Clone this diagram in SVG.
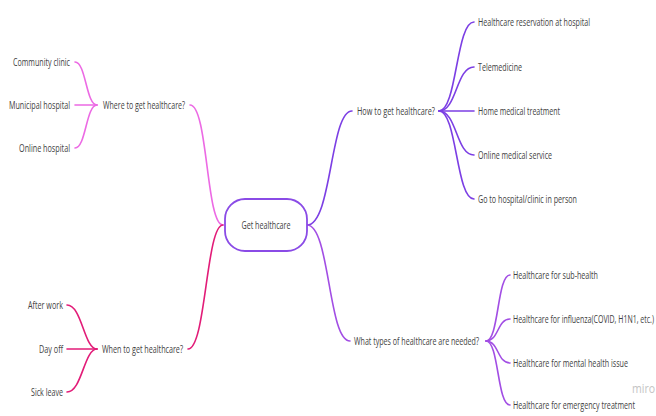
<svg xmlns="http://www.w3.org/2000/svg" width="656" height="416" viewBox="0 0 656 416">
<style>
text{font-family:"Open Sans","Liberation Sans",sans-serif;font-size:10px;fill:#414141;dominant-baseline:central}
.r{text-anchor:end}
.c{text-anchor:middle}
path{fill:none;stroke-width:1.6;stroke-linecap:round}
.pk{stroke:#ec6ae4}
.cr{stroke:#e21c78}
.pu{stroke:#7c3fe4}
.vi{stroke:#a24ee4}
</style>
<rect width="656" height="416" fill="#fff"/>
<g id="connectors">
<path class="pk" d="M223,225 C206,225 208,105 190,105"/>
<path class="pk" d="M97,105 C86,105 86,62 75,62"/>
<path class="pk" d="M97,105 L75,105"/>
<path class="pk" d="M97,105 C86,105 86,148 75,148"/>
<path class="cr" d="M223,225 C206,225 206,349 188,349"/>
<path class="cr" d="M97,349 C84,349 82,305 67,305"/>
<path class="cr" d="M97,349 L67,349"/>
<path class="cr" d="M97,349 C84,349 82,392 67,392"/>
<path class="pu" d="M307,225 C332,225 330,111 352,111"/>
<path class="pu" d="M439,111 C457,111 456,22 474,22"/>
<path class="pu" d="M439,111 C457,111 456,67 474,67"/>
<path class="pu" d="M439,111 L474,111"/>
<path class="pu" d="M439,111 C457,111 456,155 474,155"/>
<path class="pu" d="M439,111 C457,111 456,199 474,199"/>
<path class="vi" d="M307,225 C330,225 328,341 350,341"/>
<path class="vi" d="M486,341 C499,341 497,275 510,275"/>
<path class="vi" d="M486,341 C499,341 497,319 510,319"/>
<path class="vi" d="M486,341 C499,341 497,363 510,363"/>
<path class="vi" d="M486,341 C499,341 497,405 510,405"/>
</g>
<g id="center">
<rect x="225" y="199" width="82" height="52" rx="20" fill="#fff" stroke="#8a4be6" stroke-width="1.8"/>
<text class="c" x="266" y="225" textLength="49" lengthAdjust="spacingAndGlyphs">Get healthcare</text>
</g>
<g id="where"><text x="103" y="105" textLength="82" lengthAdjust="spacingAndGlyphs">Where to get healthcare?</text></g>
<g id="community"><text class="r" x="70" y="62" textLength="57" lengthAdjust="spacingAndGlyphs">Community clinic</text></g>
<g id="municipal"><text class="r" x="70" y="105" textLength="61" lengthAdjust="spacingAndGlyphs">Municipal hospital</text></g>
<g id="online-hospital"><text class="r" x="70" y="148" textLength="51" lengthAdjust="spacingAndGlyphs">Online hospital</text></g>
<g id="when"><text x="102" y="349" textLength="81" lengthAdjust="spacingAndGlyphs">When to get healthcare?</text></g>
<g id="after-work"><text class="r" x="63" y="305" textLength="35" lengthAdjust="spacingAndGlyphs">After work</text></g>
<g id="day-off"><text class="r" x="63" y="349" textLength="24" lengthAdjust="spacingAndGlyphs">Day off</text></g>
<g id="sick-leave"><text class="r" x="63" y="392" textLength="32" lengthAdjust="spacingAndGlyphs">Sick leave</text></g>
<g id="how"><text x="357" y="111" textLength="78" lengthAdjust="spacingAndGlyphs">How to get healthcare?</text></g>
<g id="reservation"><text x="478" y="22" textLength="112" lengthAdjust="spacingAndGlyphs">Healthcare reservation at hospital</text></g>
<g id="telemedicine"><text x="478" y="67" textLength="44" lengthAdjust="spacingAndGlyphs">Telemedicine</text></g>
<g id="home"><text x="478" y="111" textLength="82" lengthAdjust="spacingAndGlyphs">Home medical treatment</text></g>
<g id="online-service"><text x="478" y="155" textLength="74" lengthAdjust="spacingAndGlyphs">Online medical service</text></g>
<g id="in-person"><text x="478" y="199" textLength="99" lengthAdjust="spacingAndGlyphs">Go to hospital/clinic in person</text></g>
<g id="what"><text x="354" y="341" textLength="125" lengthAdjust="spacingAndGlyphs">What types of healthcare are needed?</text></g>
<g id="sub-health"><text x="513" y="275" textLength="85" lengthAdjust="spacingAndGlyphs">Healthcare for sub-health</text></g>
<g id="influenza"><text transform="translate(513,319) scale(0.6,1)" x="0" y="0" textLength="235" lengthAdjust="spacingAndGlyphs">Healthcare for influenza(COVID, H1N1, etc.)</text></g>
<g id="mental"><text transform="translate(513,363) scale(0.6,1)" x="0" y="0" textLength="191.7" lengthAdjust="spacingAndGlyphs">Healthcare for mental health issue</text></g>
<g id="emergency"><text transform="translate(513,405) scale(0.6,1)" x="0" y="0" textLength="203.3" lengthAdjust="spacingAndGlyphs">Healthcare for emergency treatment</text></g>
<text transform="translate(632,388) scale(0.7,1)" x="0" y="0" style="font-size:12px;fill:#c4c4c4;font-family:'Open Sans','Liberation Sans',sans-serif" textLength="32.9" lengthAdjust="spacingAndGlyphs">miro</text>
</svg>
